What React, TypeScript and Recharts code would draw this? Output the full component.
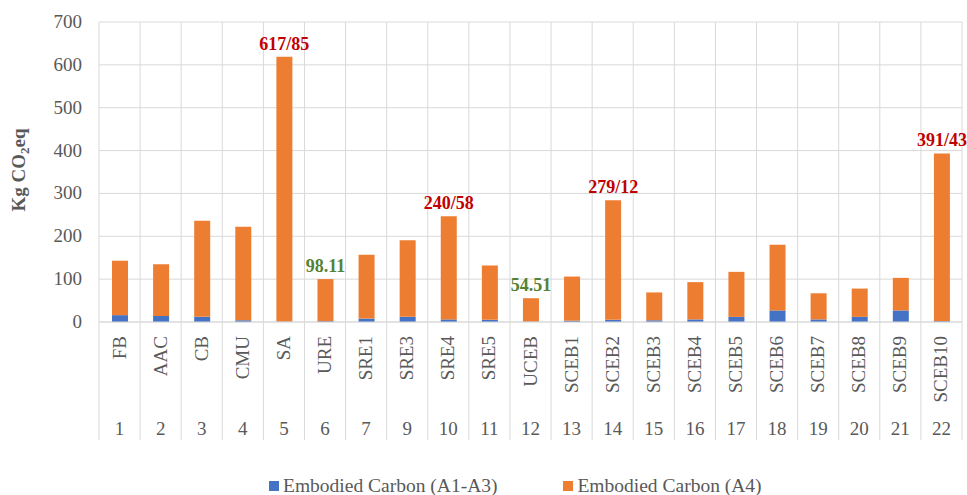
import React from "react"
import { BarChart, Bar, XAxis, YAxis, CartesianGrid, LabelList, Label, Legend } from "recharts"

const names = ["FB", "AAC", "CB", "CMU", "SA", "URE", "SRE1", "SRE3", "SRE4", "SRE5", "UCEB",
    "SCEB1", "SCEB2", "SCEB3", "SCEB4", "SCEB5", "SCEB6", "SCEB7", "SCEB8", "SCEB9", "SCEB10"]
const numbers = ["1", "2", "3", "4", "5", "6", "7", "9", "10", "11", "12",
    "13", "14", "15", "16", "17", "18", "19", "20", "21", "22"]
const a1a3 = [16, 14, 12, 4, 1, 2, 8, 12, 6, 5, 1, 3, 5, 4, 6, 12, 27, 6, 12, 27, 2]
const a4 = [127, 121, 224, 218, 617.85, 98.11, 149, 179, 240.58, 127, 54.51,
    103, 279.12, 65, 87, 105, 153, 61, 66, 76, 391.43]
const barLabels = ["", "", "", "", "617/85", "98.11", "", "", "240/58", "", "54.51",
    "", "279/12", "", "", "", "", "", "", "", "391/43"]
const yTicks = [0, 100, 200, 300, 400, 500, 600, 700]

const data = names.map((name, i) => ({
    key: String(i),
    name,
    num: numbers[i],
    a1a3: a1a3[i],
    a4: a4[i],
    label: barLabels[i],
}))

const FONT = "Liberation Serif, Times New Roman, serif"
const TEXT = "#595959"
const GRID = "#D9D9D9"
const BLUE = "#4472C4"
const ORANGE = "#ED7D31"

const W = 967
const H = 495
const LEFT = 99
const RIGHT = 5
const BAND = (W - LEFT - RIGHT) / names.length

const XTick = (props: any) => {
    const { x, y, index } = props
    const row = data[index]
    const axisY = y - 8
    const nameY = axisY + 14
    return (
        <g>
            <line x1={x - BAND / 2} x2={x - BAND / 2} y1={axisY} y2={axisY + 118} stroke={GRID} strokeWidth={1} />
            {index === data.length - 1 && (
                <line x1={x + BAND / 2} x2={x + BAND / 2} y1={axisY} y2={axisY + 118} stroke={GRID} strokeWidth={1} />
            )}
            <text
                x={x + 6}
                y={nameY}
                transform={`rotate(-90, ${x + 6}, ${nameY})`}
                textAnchor="end"
                fill={TEXT}
                fontSize={19}
                style={{ fontFamily: FONT }}
            >
                {row.name}
            </text>
            <text x={x} y={axisY + 113} textAnchor="middle" fill={TEXT} fontSize={19} style={{ fontFamily: FONT }}>
                {row.num}
            </text>
        </g>
    )
}

const YTick = (props: any) => {
    const { x, y, payload } = props
    return (
        <text x={x} y={y + 6} textAnchor="end" fill={TEXT} fontSize={19} style={{ fontFamily: FONT }}>
            {payload.value}
        </text>
    )
}

const TopLabel = (props: any) => {
    const { x, y, width, value } = props
    if (!value) return null
    const color = String(value).includes("/") ? "#C00000" : "#548235"
    return (
        <text x={x + width / 2} y={y - 7} textAnchor="middle" fill={color} fontSize={18}
            fontWeight="bold" style={{ fontFamily: FONT }}>
            {value}
        </text>
    )
}

const YTitle = (props: any) => {
    const { viewBox } = props
    const cy = viewBox.y + viewBox.height / 2 - 2
    const cx = 25
    return (
        <text x={cx} y={cy} transform={`rotate(-90, ${cx}, ${cy})`} textAnchor="middle"
            fill={TEXT} fontSize={19} fontWeight="bold" style={{ fontFamily: FONT }}>
            Kg CO<tspan fontSize={13} dy={4}>2</tspan><tspan dy={-4}>eq</tspan>
        </text>
    )
}

const LegendBox = () => (
    <div style={{
        height: 55, boxSizing: "border-box", paddingTop: 36, paddingLeft: 269,
        display: "flex", alignItems: "center", fontFamily: FONT, fontSize: 19.5, color: TEXT, lineHeight: "20px",
    }}>
        <span style={{ display: "inline-block", width: 10, height: 10, background: BLUE, marginRight: 4 }} />
        <span style={{ fontFamily: FONT }}>Embodied Carbon (A1-A3)</span>
        <span style={{ display: "inline-block", width: 10, height: 10, background: ORANGE, marginLeft: 66, marginRight: 4 }} />
        <span style={{ fontFamily: FONT }}>Embodied Carbon (A4)</span>
    </div>
)

export default function App() {
    return (
        <div style={{ position: "absolute", left: 0, top: 0, width: W, height: H, background: "#fff" }}>
            <BarChart
                width={W}
                height={H}
                data={data}
                margin={{ top: 22, right: RIGHT, left: 0, bottom: 0 }}
                barSize={16}
            >
                <CartesianGrid
                    stroke={GRID}
                    strokeWidth={1}
                    verticalCoordinatesGenerator={({ offset }: any) =>
                        Array.from({ length: names.length + 1 }, (_, i) => offset.left + (i * offset.width) / names.length)
                    }
                />
                <XAxis
                    dataKey="key"
                    interval={0}
                    height={118}
                    axisLine={{ stroke: GRID }}
                    tickLine={false}
                    tick={<XTick />}
                />
                <YAxis
                    width={LEFT}
                    domain={[0, 700]}
                    ticks={yTicks}
                    axisLine={false}
                    tickLine={false}
                    tickMargin={11}
                    tick={<YTick />}
                >
                    <Label content={<YTitle />} />
                </YAxis>
                <Legend verticalAlign="bottom" content={<LegendBox />} wrapperStyle={{ height: 55 }} />
                <Bar dataKey="a1a3" stackId="s" fill={BLUE} isAnimationActive={false} />
                <Bar dataKey="a4" stackId="s" fill={ORANGE} isAnimationActive={false}>
                    <LabelList dataKey="label" content={<TopLabel />} />
                </Bar>
            </BarChart>
        </div>
    )
}
